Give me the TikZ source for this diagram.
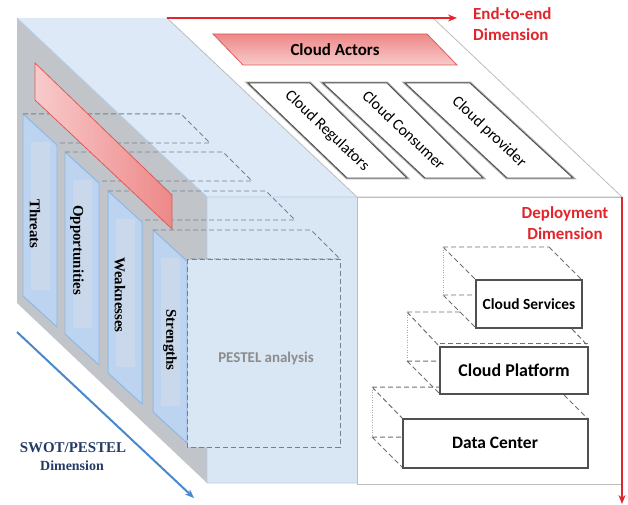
\documentclass[tikz,border=0pt]{standalone}
\usepackage{fontspec}
\setmainfont{Liberation Serif}
\newfontfamily\calfont{Carlito}
\usetikzlibrary{arrows.meta}

\definecolor{sidegray}{HTML}{C1C5C9}
\definecolor{topblue}{HTML}{DDE9F6}
\definecolor{frontblue}{HTML}{D9E6F4}
\definecolor{blueedge}{HTML}{B3CDE8}
\definecolor{edgegray}{HTML}{BDBDBD}
\definecolor{panelfill}{HTML}{BCD4EF}
\definecolor{panelin}{HTML}{C9D8EA}
\definecolor{paneledge}{HTML}{8FB7E4}
\definecolor{shelfgray}{HTML}{6F8397}
\definecolor{slabred}{HTML}{E05A5A}
\definecolor{slablight}{HTML}{F8CACA}
\definecolor{slabdark}{HTML}{EE8888}
\definecolor{dimred}{HTML}{E0262C}
\definecolor{dimblue}{HTML}{4A88CC}
\definecolor{swotnavy}{HTML}{243B63}
\definecolor{pestelgray}{HTML}{8C8C8C}
\definecolor{boxline}{HTML}{505050}
\definecolor{hiddengray}{HTML}{707070}

\begin{document}
\begin{tikzpicture}[x=1bp,y=-1bp,
  panel/.style={fill=panelfill, draw=paneledge, line width=1},
  shelf/.style={draw=shelfgray, dash pattern=on 5bp off 3bp, line width=1},
  paneltext/.style={rotate=-90, inner sep=0, font=\fontsize{15}{17}\selectfont\bfseries},
  actorbox/.style={fill=white, draw=boxline, line width=1},
  actorshadow/.style={draw=black!30, line width=3},
  actortext/.style={rotate=-43.5, inner sep=0, font=\calfont\fontsize{16}{18}\selectfont},
  hidden/.style={draw=hiddengray, dash pattern=on 5bp off 3bp, line width=1},
  hiddendot/.style={draw=hiddengray!60, dash pattern=on 1bp off 1.5bp, line width=0.9},
  layerbox/.style={fill=white, draw=boxline, line width=1.2},
  layertext/.style={inner sep=0, font=\calfont\bfseries},
  dimlabel/.style={inner sep=0, text=dimred, font=\calfont\bfseries\fontsize{17}{21}\selectfont},
  dimarrow/.style={draw=dimred, line width=1.6, -{Stealth[length=9bp,width=7bp]}},
  swotlabel/.style={inner sep=0, text=swotnavy, font=\bfseries}]
\useasboundingbox (0,0) rectangle (628,505);
\fill[white] (0,0) rectangle (628,505);

% ---- the cube: side, top and front faces
\fill[sidegray] (17,18) -- (207,197) -- (207,483) -- (17,303) -- cycle;
\fill[topblue] (17,18) -- (167,18) -- (357,197) -- (207,197) -- cycle;
\fill[frontblue] (207,197) rectangle (357,483);
\draw[blueedge, line width=0.8] (17,18) -- (207,197) -- (357,197)
  (207,197) -- (207,483) -- (357,483);
\draw[edgegray, line width=0.8] (167,18) -- (433,18) -- (622,197) -- (357,197) -- cycle;
\draw[edgegray, line width=0.8] (357,197) rectangle (622,484);

% front of the PESTEL block
\fill[frontblue] (187,259) rectangle (340,447);

% ---- SWOT panels on the side face
\foreach \xl/\yt in {23/114, 65/152, 108/191, 153/230}{
  \filldraw[panel] (\xl,\yt) -- ++(34,31) -- ++(0,182) -- ++(-34,-31) -- cycle;
  \fill[panelin] (\xl+8,\yt+28) rectangle (\xl+27,\yt+176);
}
\node[paneltext] (threats) at (35,224) {Threats};
\node[paneltext] (opportunities) at (77,250) {Opportunities};
\node[paneltext] (weaknesses) at (120,295) {Weaknesses};
\node[paneltext] (strengths) at (170,340) {Strengths};

% dashed slices of the PESTEL block
\foreach \xl/\yt in {23/114, 65/152, 108/191, 153/230}{
  \draw[shelf] (\xl,\yt) -- ++(158,0) -- ++(29,29) -- (\xl+34,\yt+29);
}
\draw[shelf] (187,259) rectangle (340,447);
\node[inner sep=0, text=pestelgray, font=\calfont\bfseries\fontsize{15}{17}\selectfont]
  (pestel) at (266,358) {PESTEL analysis};

% red slab across the panels
\shade[left color=slablight, right color=slabdark]
  (35,63) -- (172,195) -- (172,229) -- (35,100) -- cycle;
\draw[slabred, line width=0.8] (35,63) -- (172,195) -- (172,229) -- (35,100) -- cycle;

% ---- cloud actors on the top face
\shade[top color=slabdark, bottom color=slablight]
  (213,34) -- (427,34) -- (457,65) -- (243,65) -- cycle;
\draw[slabred, line width=0.8] (213,34) -- (427,34) -- (457,65) -- (243,65) -- cycle;
\node[layertext, font=\calfont\bfseries\fontsize{17}{19}\selectfont] (actors) at (335,50) {Cloud Actors};

\foreach \a/\b/\c/\d in {248/310/407/347, 323/387/483/425, 405/470/573/507}{
  \draw[actorshadow] (\a,83) -- (\b,83) -- (\c,178) -- (\d,178) -- cycle;
  \filldraw[actorbox] (\a,83) -- (\b,83) -- (\c,178) -- (\d,178) -- cycle;
}
\node[actortext] (regulators) at (327,131) {Cloud Regulators};
\node[actortext] (consumer) at (404,130) {Cloud Consumer};
\node[actortext] (provider) at (489,132) {Cloud provider};

% ---- deployment layers
% Data Center
\draw[hidden] (372,387) -- (440,387) (372,387) -- (403,419)
  (372,437) -- (403,437) (372,437) -- (403,468) (564,395) -- (588,419);
\draw[hiddendot] (372,387) -- (372,437);
\filldraw[layerbox] (403,419) rectangle (588,468);
\node[layertext, font=\calfont\bfseries\fontsize{17.5}{20}\selectfont] (datacenter) at (495,443) {Data Center};
% Cloud Platform
\draw[hidden] (407,312) -- (460,312) (407,312) -- (440,347)
  (407,361) -- (440,361) (407,361) -- (440,394) (572,329) -- (588,346);
\draw[hiddendot] (407,312) -- (407,361);
\filldraw[layerbox] (440,347) rectangle (588,394);
\draw[hidden] (440,343) -- (588,343);
\node[layertext, font=\calfont\bfseries\fontsize{18}{20}\selectfont] (platform) at (514,370) {Cloud Platform};
% Cloud Services
\draw[hidden] (443,247) -- (549,247) (443,247) -- (476,280) (549,247) -- (582,280)
  (443,295) -- (476,295) (443,295) -- (476,328);
\draw[hiddendot] (443,247) -- (443,295);
\filldraw[layerbox] (476,280) rectangle (582,328);
\node[layertext, font=\calfont\bfseries\fontsize{15.5}{18}\selectfont] (services) at (529,304) {Cloud Services};

% ---- dimension arrows and labels
\coordinate (e2e start) at (167,18);
\coordinate (e2e end) at (457,18);
\draw[dimarrow] (e2e start) -- (e2e end);
\node[dimlabel, anchor=west, align=left] (e2e) at (473,24) {End-to-end\\Dimension};

\coordinate (dep start) at (622,197);
\coordinate (dep end) at (622,504);
\draw[dimarrow, line width=2] (dep start) -- (dep end);
\node[dimlabel, align=center] (deployment) at (565,223) {Deployment\\Dimension};

\coordinate (swot start) at (17,332);
\coordinate (swot end) at (194,498);
\draw[draw=dimblue, line width=2, -{Stealth[length=9bp,width=7bp]}] (swot start) -- (swot end);
\node[swotlabel, font=\bfseries\fontsize{15}{17}\selectfont] (swot) at (73,448) {SWOT/PESTEL};
\node[swotlabel, font=\bfseries\fontsize{14}{16}\selectfont] (swotdim) at (72,466) {Dimension};
\end{tikzpicture}
\end{document}
